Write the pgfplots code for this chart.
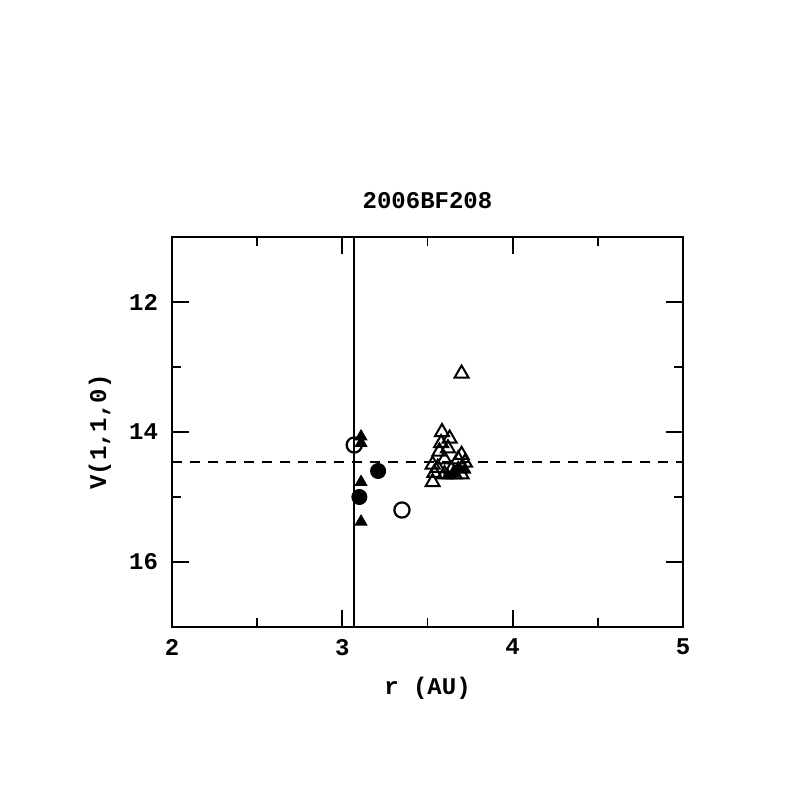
\documentclass[border=0pt]{standalone}
\usepackage{pgfplots}
\pgfplotsset{compat=1.18}
\usepackage{fontspec}
\setmainfont{Liberation Mono}
\begin{document}
\begin{tikzpicture}
\begin{axis}[
  at={(0,0)}, anchor=south west,
  scale only axis, width=255.5pt, height=195pt,
  xmin=2, xmax=5, ymin=11, ymax=17, y dir=reverse,
  xtick={2,3,4,5}, minor xtick={2.5,3.5,4.5},
  ytick={12,14,16}, minor ytick={13,15},
  tick align=inside, xtick pos=both, ytick pos=both,
  major tick length=8.5pt, minor tick length=4.5pt,
  every tick/.style={line width=0.9pt, black},
  axis line style={line width=1.1pt},
  font=\fontsize{12}{14}\selectfont\bfseries,
  /pgf/number format/assume math mode=true,
  tick label style={font=\fontsize{12}{14}\selectfont\bfseries},
  xticklabel style={yshift=-2.5pt},
  yticklabel style={xshift=-3.5pt},
  xlabel={r (AU)}, ylabel={V(1,1,0)},
  xlabel style={at={(axis description cs:0.5,-0.1564)}, anchor=center},
  ylabel style={at={(axis description cs:-0.1409,0.5)}, anchor=center},
  title={2006BF208},
  title style={at={(axis description cs:0.5,1.0615)}, anchor=center},
  clip=false,
]
\addplot[black, line width=0.9pt, forget plot] coordinates {(3.067,11) (3.067,17)};
\addplot[black, line width=0.9pt, dash pattern=on 5pt off 4pt, forget plot] coordinates {(2,14.46) (5,14.46)};
% open triangles
\addplot[only marks, mark=triangle, mark size=4pt, mark options={line width=1pt, fill=white, draw=black}] coordinates {
(3.70,13.10) (3.585,14.00) (3.63,14.10) (3.58,14.17) (3.62,14.25) (3.57,14.30)
(3.70,14.35) (3.68,14.42) (3.60,14.42) (3.53,14.50) (3.72,14.47) (3.56,14.55)
(3.64,14.58) (3.54,14.63) (3.60,14.65) (3.70,14.65) (3.66,14.65) (3.53,14.77)
};
% filled triangles
\addplot[only marks, mark=triangle*, mark size=3.4pt, mark options={fill=black, draw=black}] coordinates {
(3.11,14.07) (3.11,14.17) (3.11,14.77) (3.11,15.38)
(3.68,14.55) (3.65,14.63) (3.72,14.58) (3.62,14.67)
};
% filled circles
\addplot[only marks, mark=*, mark size=3.8pt, mark options={fill=black, draw=black}] coordinates {
(3.10,15.00) (3.21,14.60)
};
% open circles
\addplot[only marks, mark=o, mark size=3.8pt, mark options={line width=1.1pt, draw=black}] coordinates {
(3.07,14.20) (3.35,15.20)
};
\end{axis}
\pgfresetboundingbox
\path[use as bounding box] (-86pt,-85pt) rectangle (312.5pt,313.5pt);
\end{tikzpicture}
\end{document}
